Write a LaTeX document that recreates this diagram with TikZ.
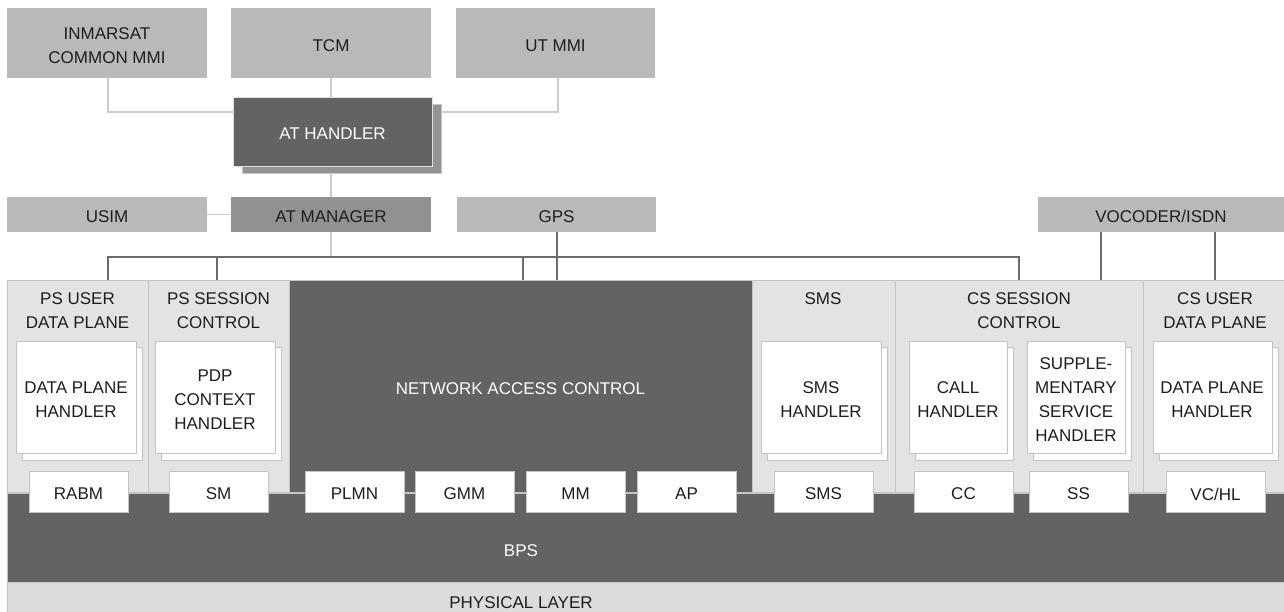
\documentclass[tikz,border=0pt]{standalone}
\usepackage{fontspec}
\setmainfont{Liberation Sans}
\usetikzlibrary{fit,calc}
\definecolor{topg}{HTML}{B9B9B9}
\definecolor{darkg}{HTML}{636363}
\definecolor{midg}{HTML}{919191}
\definecolor{shadg}{HTML}{939393}
\definecolor{secf}{HTML}{E3E3E3}
\definecolor{secl}{HTML}{C4C4C4}
\definecolor{lnl}{HTML}{CDCDCD}
\definecolor{lnd}{HTML}{6B6B6B}
\definecolor{physf}{HTML}{DCDCDC}
\definecolor{txt}{HTML}{1E1E1E}
\begin{document}
\begin{tikzpicture}[x=0.75pt,y=-0.75pt,
  font=\fontsize{12.75}{18}\selectfont,
  every node/.style={text=txt, align=center},
  rct/.style={rectangle, inner sep=0pt, outer sep=0pt},
  topbox/.style={rct, fill=topg},
  darkbox/.style={rct, fill=darkg, draw=secl, line width=0.75pt},
  sect/.style={rct, fill=secf, draw=secl, line width=0.75pt},
  card/.style={rct, fill=white, draw=secl, line width=0.75pt},
  lightln/.style={draw=lnl, line width=1.1pt},
  darkln/.style={draw=lnd, line width=1pt},
  lbl/.style={inner sep=0pt, outer sep=0pt},
  ctr/.style={lbl, yshift=-1.9pt},
  wlbl/.style={lbl, text=white}
]
\useasboundingbox (0,0) rectangle (1284,611);

% top row
\node[topbox, fit={(7,8)(207,78)}] (inm) {};
\node[ctr] (inmT) at (inm.center) {INMARSAT\\COMMON MMI};
\node[topbox, fit={(231,8)(431,78)}] (tcm) {};
\node[ctr] (tcmT) at (tcm.center) {TCM};
\node[topbox, fit={(456,8)(655,78)}] (utm) {};
\node[ctr] (utmT) at (utm.center) {UT MMI};

% AT handler with shadow
\node[rct, fill=shadg, draw=secl, line width=0.6pt, fit={(242,104)(441,173)}] (aths) {};
\node[rct, fill=darkg, draw=white!88!black, line width=0.7pt, fit={(233,97)(432,166)}] (ath) {};
\node[ctr, text=white] (athT) at (ath.center) {AT HANDLER};

% second row
\node[topbox, fit={(7,197)(207,232)}] (usim) {};
\node[ctr] (usimT) at (usim.center) {USIM};
\node[rct, fill=midg, fit={(231,197)(431,232)}] (atm) {};
\node[ctr] (atmT) at (atm.center) {AT MANAGER};
\node[topbox, fit={(457,197)(656,232)}] (gps) {};
\node[ctr] (gpsT) at (gps.center) {GPS};
\node[topbox, fit={(1038,197)(1290,232)}] (voc) {};
\node[lbl] (vocT) at (1161,216.5) {VOCODER/ISDN};

% sections
\node[sect, fit={(7,280)(148,492)}] (psu) {};
\node[sect, fit={(148,280)(289,492)}] (pss) {};
\node[darkbox, fit={(289,280)(752,492)}] (nac) {};
\node[sect, fit={(752,280)(895,492)}] (sms) {};
\node[sect, fit={(895,280)(1143,492)}] (csc) {};
\node[sect, fit={(1143,280)(1290,492)}] (csu) {};

\node[lbl] (psut) at (77.5,310.5) {PS USER\\DATA PLANE};
\node[lbl] (psst) at (218.5,310.5) {PS SESSION\\CONTROL};
\node[wlbl] (nact) at (520.5,388.5) {NETWORK ACCESS CONTROL};
\node[lbl] (smst) at (823,298.5) {SMS};
\node[lbl] (csct) at (1019,310.5) {CS SESSION\\CONTROL};
\node[lbl] (csut) at (1215,310.5) {CS USER\\DATA PLANE};

% cards with shadows
\node[card, fit={(22,347)(142,460)}] (c1s) {};
\node[card, fit={(16,341)(136,453)}] (c1) {};
\node[lbl] (c1T) at (76,399.5) {DATA PLANE\\HANDLER};
\node[card, fit={(161,347)(281,460)}] (c2s) {};
\node[card, fit={(155,341)(275,453)}] (c2) {};
\node[lbl] (c2T) at (215,399.5) {PDP\\CONTEXT\\HANDLER};
\node[card, fit={(767,347)(887,460)}] (c3s) {};
\node[card, fit={(761,341)(881,453)}] (c3) {};
\node[lbl] (c3T) at (821,399.5) {SMS\\HANDLER};
\node[card, fit={(915,347)(1013,460)}] (c4s) {};
\node[card, fit={(909,341)(1007,453)}] (c4) {};
\node[lbl] (c4T) at (958,399.5) {CALL\\HANDLER};
\node[card, fit={(1033,347)(1131,460)}] (c5s) {};
\node[card, fit={(1027,341)(1125,453)}] (c5) {};
\node[lbl] (c5T) at (1076,399.5) {SUPPLE-\\MENTARY\\SERVICE\\HANDLER};
\node[card, fit={(1159,347)(1278,460)}] (c6s) {};
\node[card, fit={(1153,341)(1272,453)}] (c6) {};
\node[lbl] (c6T) at (1212,399.5) {DATA PLANE\\HANDLER};

% BPS and physical layer
\node[darkbox, fit={(7,493)(1290,582)}] (bps) {};
\node[wlbl] (bpst) at (521,550.5) {BPS};
\node[rct, fill=physf, draw=secl, line width=0.75pt, fit={(7,582)(1290,615)}] (phy) {};
\node[lbl] (phyt) at (521,602.5) {PHYSICAL LAYER};

% protocol boxes
\node[card, fit={(29,471)(128,512)}] (rabm) {};
\node[ctr] (rabmT) at (rabm.center) {RABM};
\node[card, fit={(169,471)(268,512)}] (sm) {};
\node[ctr] (smT) at (sm.center) {SM};
\node[card, fit={(305,471)(404,512)}] (plmn) {};
\node[ctr] (plmnT) at (plmn.center) {PLMN};
\node[card, fit={(415,471)(514,512)}] (gmm) {};
\node[ctr] (gmmT) at (gmm.center) {GMM};
\node[card, fit={(526,471)(625,512)}] (mm) {};
\node[ctr] (mmT) at (mm.center) {MM};
\node[card, fit={(637,471)(736,512)}] (ap) {};
\node[ctr] (apT) at (ap.center) {AP};
\node[card, fit={(774,471)(873,512)}] (smsb) {};
\node[ctr] (smsbT) at (smsb.center) {SMS};
\node[card, fit={(914,471)(1013,512)}] (cc) {};
\node[ctr] (ccT) at (cc.center) {CC};
\node[card, fit={(1029,471)(1128,512)}] (ss) {};
\node[ctr] (ssT) at (ss.center) {SS};
\node[card, fit={(1166,471)(1265,512)}] (vchl) {};
\node[ctr] (vchlT) at (vchl.center) {VC/HL};

% light connectors
\draw[lightln] (inm.south -| 108,0) |- ($(ath.north west)+(0,15)$);
\draw[lightln] (utm.south -| 558,0) |- ($(aths.north east)+(0,8)$);
\draw[lightln] (tcm.south -| 331,0) -- (ath.north -| 331,0);
\draw[lightln] (aths.south -| 331,0) -- (atm.north -| 331,0);
\draw[lightln] (usim.east) -- (atm.west);

% bus
\coordinate (j1) at (108,257);
\coordinate (j2) at (217,257);
\coordinate (j3) at (523,257);
\coordinate (j5) at (1019,257);
\coordinate (v1) at (1101,0);
\coordinate (v2) at (1215,0);
\draw[lightln] (atm.south -| 331,0) -- (j1 -| 331,0);
\draw[darkln] (j1 |- psu.north) -- (j1) -- (j5) -- (j5 |- csc.north);
\draw[darkln] (j2) -- (j2 |- pss.north);
\draw[darkln] (j3) -- (j3 |- nac.north);
\draw[darkln] (gps.south -| 557,0) -- (nac.north -| 557,0);
\draw[darkln] (v1 |- voc.south) -- (v1 |- csc.north);
\draw[darkln] (v2 |- voc.south) -- (v2 |- csu.north);
\end{tikzpicture}
\end{document}
